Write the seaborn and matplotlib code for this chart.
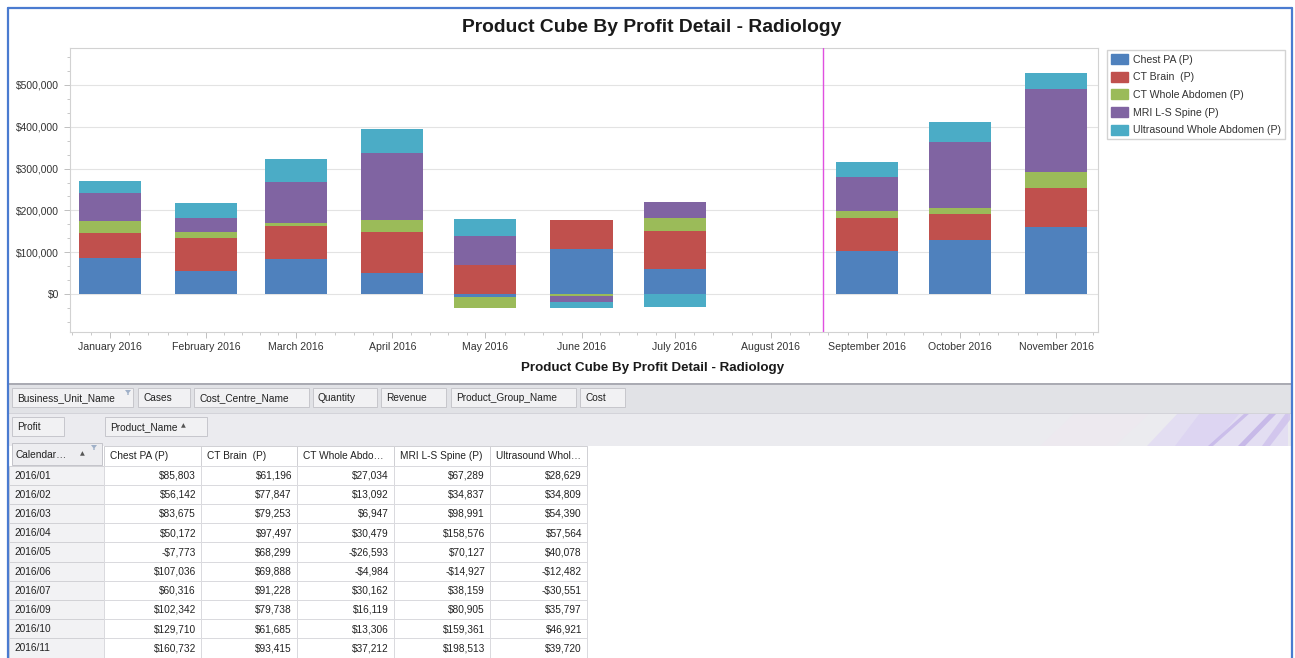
import numpy as np
import pandas as pd
import matplotlib
matplotlib.use("Agg")
import matplotlib.pyplot as plt
import matplotlib.dates as mdates
import matplotlib.ticker as mticker
import matplotlib.transforms as mtransforms
from matplotlib.patches import Rectangle, Patch, Polygon
from matplotlib.lines import Line2D
import seaborn as sns

# ---------------- data ----------------
tick_months = ["2016-01-01", "2016-02-01", "2016-03-01", "2016-04-01", "2016-05-01", "2016-06-01",
               "2016-07-01", "2016-08-01", "2016-09-01", "2016-10-01", "2016-11-01"]
tick_labels = ["January 2016", "February 2016", "March 2016", "April 2016", "May 2016", "June 2016",
               "July 2016", "August 2016", "September 2016", "October 2016", "November 2016"]
data_months = ["2016-01-01", "2016-02-01", "2016-03-01", "2016-04-01", "2016-05-01", "2016-06-01",
               "2016-07-01", "2016-09-01", "2016-10-01", "2016-11-01"]
row_labels = ["2016/01", "2016/02", "2016/03", "2016/04", "2016/05", "2016/06",
              "2016/07", "2016/09", "2016/10", "2016/11"]
products = ["Chest PA (P)", "CT Brain  (P)", "CT Whole Abdomen (P)", "MRI L-S Spine (P)",
            "Ultrasound Whole Abdomen (P)"]
column_headers = ["Chest PA (P)", "CT Brain  (P)", "CT Whole Abdo\u2026", "MRI L-S Spine (P)",
                  "Ultrasound Whol\u2026"]
chest_pa = [85803, 56142, 83675, 50172, -7773, 107036, 60316, 102342, 129710, 160732]
ct_brain = [61196, 77847, 79253, 97497, 68299, 69888, 91228, 79738, 61685, 93415]
ct_whole_abdomen = [27034, 13092, 6947, 30479, -26593, -4984, 30162, 16119, 13306, 37212]
mri_ls_spine = [67289, 34837, 98991, 158576, 70127, -14927, 38159, 80905, 159361, 198513]
ultrasound = [28629, 34809, 54390, 57564, 40078, -12482, -30551, 35797, 46921, 39720]
y_ticks = [0, 100000, 200000, 300000, 400000, 500000]
marker_date = "2016-08-18"
title = "Product Cube By Profit Detail - Radiology"
fields_row1 = ["Business_Unit_Name", "Cases", "Cost_Centre_Name", "Quantity", "Revenue",
               "Product_Group_Name", "Cost"]
fields_row2 = ["Profit", "Product_Name"]
row_field = "Calendar\u2026"

# ---------------- style ----------------
sns.set_style("white")
plt.rcParams["font.family"] = ["Liberation Sans", "DejaVu Sans"]
colors = ["#4f81bd", "#c0504d", "#9bbb59", "#8064a2", "#4bacc6"]
TXT = "#333333"

W, H = 1295, 658
fig = plt.figure(figsize=(W / 100, H / 100), dpi=100, facecolor="white")
ax = fig.add_axes([70 / W, 1 - 332 / H, 1028 / W, 284 / H])

x_num = mdates.date2num(pd.to_datetime(data_months))
native = float(np.min(np.diff(x_num)))
bar_days = 20.0
series = [chest_pa, ct_brain, ct_whole_abdomen, mri_ls_spine, ultrasound]
pos_bottom = np.zeros(len(x_num))
neg_bottom = np.zeros(len(x_num))
for name, vals, col in zip(products, series, colors):
    v = np.asarray(vals, dtype=float)
    pos = np.where(v > 0, v, 0.0)
    neg = np.where(v < 0, v, 0.0)
    for h, bot in ((pos, pos_bottom), (neg, neg_bottom)):
        df = pd.DataFrame({"date": x_num, "profit": h})
        sns.barplot(data=df, x="date", y="profit", native_scale=True, orient="x",
                    width=bar_days / native, color=col, saturation=1, errorbar=None,
                    bottom=bot.copy(), linewidth=0, ax=ax, zorder=3)
    pos_bottom = pos_bottom + pos
    neg_bottom = neg_bottom + neg

ax.axvline(mdates.date2num(pd.Timestamp(marker_date)), color="#e050e0", lw=1.0, zorder=4)

tick_num = mdates.date2num(pd.to_datetime(tick_months))
xlim = (tick_num[0] - 12.9, tick_num[-1] + 13.5)
ax.set_xticks(tick_num)
ax.set_xticklabels(tick_labels)
# minor ticks: 5 divisions per month
edges = np.concatenate([[tick_num[0] - 31], tick_num, [tick_num[-1] + 30]])
minor = []
for a, b in zip(edges[:-1], edges[1:]):
    minor += list(a + (b - a) * np.arange(1, 5) / 5)
minor = [m for m in minor if xlim[0] <= m <= xlim[1]]
ax.set_xticks(minor, minor=True)
ax.set_yticks(y_ticks)
ax.set_yticklabels([f"${v:,.0f}" for v in y_ticks])
ax.yaxis.set_minor_locator(mticker.MultipleLocator(100000 / 3))
ax.set_xlim(*xlim)
ax.set_ylim(-91000, 588500)
ax.set_xlabel("")
ax.set_ylabel("")
ax.yaxis.grid(True, which="major", color="#e3e3e3", lw=0.8)
ax.xaxis.grid(False)
ax.set_axisbelow(True)
for s in ax.spines.values():
    s.set_visible(True)
    s.set_color("#d2d2d2")
    s.set_linewidth(0.8)
ax.tick_params(axis="both", which="major", length=4, width=0.7, color="#c0c0c0",
               labelcolor=TXT, direction="out")
ax.tick_params(axis="both", which="minor", length=2.2, width=0.7, color="#c8c8c8", direction="out")
ax.tick_params(axis="x", which="major", labelsize=7.6, pad=3.5)
ax.tick_params(axis="y", which="major", labelsize=7.4, pad=4)
ax.tick_params(left=True, bottom=True, which="both")

handles = [Patch(facecolor=c, edgecolor=c, label=p) for p, c in zip(products, colors)]
fig.legend(handles=handles, loc="upper left", bbox_to_anchor=(1107 / W, 1 - 50 / H),
           bbox_transform=fig.transFigure, frameon=True, fancybox=False, edgecolor="#c8c8c8",
           fontsize=7.6, labelcolor=TXT, handlelength=1.6, handleheight=1.1,
           handletextpad=0.5, labelspacing=0.66, borderpad=0.38, borderaxespad=0)

# ---------------- pixel helpers ----------------
tp = mtransforms.Affine2D().scale(1 / W, -1 / H).translate(0, 1) + fig.transFigure


def rect(x, y, w, h, fc, ec="none", lw=0.7, z=1):
    fig.add_artist(Rectangle((x, y), w, h, transform=tp, facecolor=fc, edgecolor=ec,
                             linewidth=lw, zorder=z))


def text(x, y, s, **kw):
    kw.setdefault("va", "center")
    kw.setdefault("color", "#222222")
    kw.setdefault("fontsize", 7.3)
    fig.text(x, y, s, transform=tp, **kw)


def line(xs, ys, c, lw, z=2):
    fig.add_artist(Line2D(xs, ys, transform=tp, color=c, lw=lw, zorder=z))


def funnel(x, y):
    fig.add_artist(Polygon([(x - 3, y - 2), (x + 3, y - 2), (x + 0.7, y + 1), (x + 0.7, y + 3),
                            (x - 0.7, y + 3), (x - 0.7, y + 1)], closed=True, transform=tp,
                           facecolor="#9fb0c8", edgecolor="none", zorder=3))


# titles
text(652, 27, title, ha="center", fontsize=13.9, fontweight="bold", color="#1a1a1a")
text(653, 368, title, ha="center", fontsize=9.6, fontweight="bold", color="#1a1a1a")

# pivot header area
rect(8, 383, 1284, 30, "#e1e2e6")
rect(8, 413, 1284, 33, "#ebebef")
line([8, 1292], [383.5, 383.5], "#a9aab2", 1.4)
line([8, 1292], [413, 413], "#d3d3d9", 0.7)

# decorative swoosh
for pts, fc, al in [
    ([(1040, 446), (1075, 413), (1150, 413), (1115, 446)], "#f1e6ef", 0.35),
    ([(1147, 446), (1178, 413), (1288, 413), (1288, 446)], "#e2dbf3", 0.8),
    ([(1175, 446), (1200, 413), (1240, 413), (1212, 446)], "#d9cff2", 0.6),
    ([(1208, 446), (1213, 446), (1250, 413), (1245, 413)], "#c5b6e8", 0.8),
    ([(1238, 446), (1245, 446), (1277, 413), (1270, 413)], "#c0b0e6", 0.8),
    ([(1262, 446), (1270, 446), (1290, 420), (1290, 413), (1286, 413)], "#cbbdec", 0.7),
]:
    fig.add_artist(Polygon(pts, closed=True, transform=tp, facecolor=fc, edgecolor="none",
                           alpha=al, zorder=1.5))

btn_x1 = [(12, 133), (138, 190), (194, 309), (313, 377), (381, 446), (451, 576), (580, 625)]
for name, (a, b) in zip(fields_row1, btn_x1):
    rect(a, 388, b - a, 19, "#f1f1f3", "#c6c6cc", 0.7, z=2)
    text(a + 5, 398, name)
funnel(128, 392)
btn_x2 = [(12, 64), (105, 207)]
for name, (a, b) in zip(fields_row2, btn_x2):
    rect(a, 417, b - a, 19, "#f1f1f3", "#c6c6cc", 0.7, z=2)
    text(a + 5, 427, name)
text(181, 426, "\u25b2", fontsize=4.5, color="#555555", family=["DejaVu Sans"])

# grid header
rect(12, 443, 90, 22, "#ededf0", "#c4c4ca", 0.7, z=2)
text(16, 455, row_field)
text(80, 454, "\u25b2", fontsize=4.5, color="#555555", family=["DejaVu Sans"])
funnel(94, 447)
col_edges = [104, 201, 297, 394, 490, 587]
for i, hdr in enumerate(column_headers):
    a, b = col_edges[i], col_edges[i + 1]
    rect(a, 446, b - a, 19.5, "#ffffff", "#d0d0d4", 0.7, z=2)
    text(a + 6, 456, hdr)

# grid rows
row_top, row_h = 465.5, 19.2
for r, lab in enumerate(row_labels):
    y0 = row_top + r * row_h
    rect(9, y0, 95, row_h, "#f2f2f4", "#d2d2d6", 0.7, z=2)
    text(14, y0 + row_h / 2 + 0.5, lab)
    for c, vals in enumerate(series):
        a, b = col_edges[c], col_edges[c + 1]
        rect(a, y0, b - a, row_h, "#ffffff", "#dadade", 0.7, z=2)
        v = vals[r]
        s = f"${v:,}" if v >= 0 else f"-${-v:,}"
        text(b - 5, y0 + row_h / 2 + 0.5, s, ha="right")

# outer blue border
bc = "#4a7bd0"
line([8, 8], [8, 660], bc, 1.6, z=5)
line([1292, 1292], [8, 660], bc, 1.6, z=5)
line([8, 1292], [8, 8], bc, 1.6, z=5)

fig.savefig("out.png", dpi=100, facecolor="white")
